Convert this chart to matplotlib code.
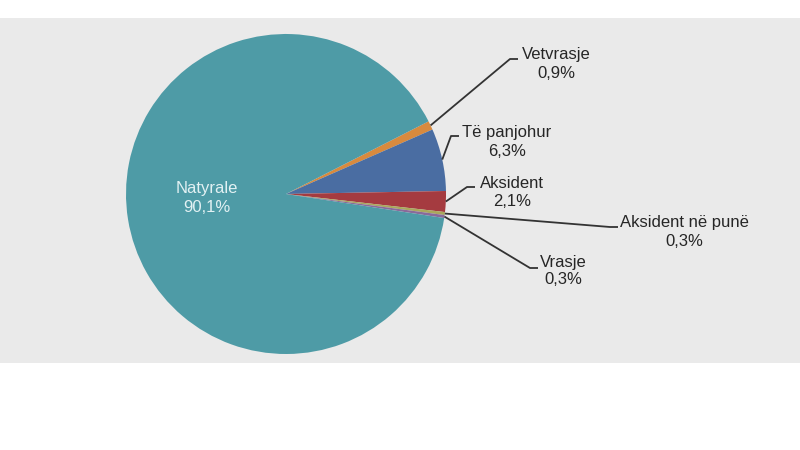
import numpy as np
import matplotlib.pyplot as plt
from matplotlib.patches import Rectangle

labels = ["Vetvrasje", "Të panjohur", "Aksident", "Aksident në punë", "Vrasje", "Natyrale"]
shares = [0.9, 6.3, 2.1, 0.3, 0.3, 90.1]
share_text = ["0,9%", "6,3%", "2,1%", "0,3%", "0,3%", "90,1%"]
colors = ["#D88A3E", "#4A6DA2", "#A53B40", "#A9A85C", "#8A6A9A", "#4E9BA6"]

# label block centres and leader elbows, in pixels from top-left
label_pos = [(556, 64), (507, 142), (512, 193), (684, 232), (563, 271)]
elbows = [(510, 59), (451, 136), (467, 187), (610, 227), (530, 268)]

W, H = 800, 450
CX, CY, R = 286, 194, 160

fig = plt.figure(figsize=(8, 4.5), dpi=100)
ax = fig.add_axes([0, 0, 1, 1])
ax.axis("off")
# grey plot area band
ax.add_patch(Rectangle((0, H - 363), W, 345, facecolor="#EAEAEA", edgecolor="none", zorder=0))

wedges, _ = ax.pie(shares, colors=colors, startangle=27, counterclock=False,
                   center=(CX, H - CY), radius=R, wedgeprops=dict(linewidth=0, zorder=1))
ax.set_xlim(0, W)
ax.set_ylim(0, H)
ax.set_aspect("equal")

font = dict(family=["Liberation Sans", "DejaVu Sans"], fontsize=12, color="#262626")

for i, w in enumerate(wedges[:-1]):
    mid = np.deg2rad((w.theta1 + w.theta2) / 2)
    sx, sy = CX + R * np.cos(mid), (H - CY) + R * np.sin(mid)
    ex, ey = elbows[i]
    ax.plot([sx, ex, ex + 8], [sy, H - ey, H - ey], color="#333333", lw=1.3,
            solid_capstyle="butt", zorder=2)
    tx, ty = label_pos[i]
    ax.text(tx, H - ty, f"{labels[i]}\n{share_text[i]}", ha="center", va="center",
            linespacing=1.25, zorder=3, **font)

ax.text(207, H - 198, f"{labels[-1]}\n{share_text[-1]}", ha="center", va="center",
        linespacing=1.25, zorder=3, **{**font, "color": "#E2F1F3"})

fig.savefig("out.png", dpi=100)
